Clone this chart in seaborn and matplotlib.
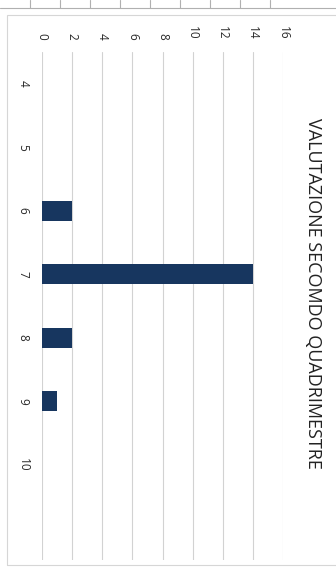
import matplotlib
matplotlib.use("Agg")
import matplotlib.pyplot as plt
from matplotlib.lines import Line2D
from matplotlib.patches import Rectangle
import pandas as pd
import seaborn as sns

# data (chart is scanned rotated 90 degrees clockwise)
voti = ["4", "5", "6", "7", "8", "9", "10"]
studenti = [0, 0, 2, 14, 2, 1, 0]
value_ticks = [0, 2, 4, 6, 8, 10, 12, 14, 16]
titolo = "VALUTAZIONE SECOMDO QUADRIMESTRE"

BAR_COLOR = "#17365f"
GRID_COLOR = "#d2d2d2"


def main() -> None:
    sns.set_theme(style="white")
    plt.rcParams["font.family"] = ["Open Sans", "DejaVu Sans"]

    df = pd.DataFrame({"voto": voti, "studenti": studenti})

    fig = plt.figure(figsize=(3.36, 5.67), dpi=100)
    ax = fig.add_axes([42 / 336, 1 - 560 / 567, 241 / 336, 508 / 567])

    sns.barplot(
        data=df,
        x="studenti",
        y="voto",
        orient="h",
        color=BAR_COLOR,
        width=0.31,
        saturation=1,
        linewidth=0,
        ax=ax,
    )

    ax.set_xlim(0, 16)
    ax.set_ylim(7.5, -0.5)  # leaves an empty slot after "10", as in the scan
    ax.set_xticks(value_ticks)
    ax.set_xticklabels([str(v) for v in value_ticks], rotation=270, fontsize=8.5, color="#2a2a2a")
    ax.set_yticks(range(len(voti)))
    ax.set_yticklabels(voti, rotation=270, fontsize=8.5, color="#2a2a2a", va="center")
    ax.xaxis.tick_top()
    ax.tick_params(axis="x", length=0, pad=9)
    ax.tick_params(axis="y", length=0, pad=9)
    ax.set_xlabel("")
    ax.set_ylabel("")

    ax.grid(axis="x", color=GRID_COLOR, linewidth=0.8, linestyle="-")
    ax.grid(axis="y", visible=False)
    ax.set_axisbelow(True)
    for side in ax.spines.values():
        side.set_visible(False)
    ax.patch.set_alpha(0)

    fig.text(
        313 / 336,
        1 - 293 / 567,
        titolo,
        rotation=270,
        ha="center",
        va="center",
        fontsize=13,
        color="#222222",
    )

    # chart border and the scanned table strip at the top
    fig.add_artist(Rectangle((7 / 336, 2 / 567), 340 / 336, 550 / 567,
                             transform=fig.transFigure, fill=False,
                             edgecolor="#d6d6d6", linewidth=0.8))
    fig.add_artist(Line2D([0, 1], [1 - 8 / 567, 1 - 8 / 567],
                          transform=fig.transFigure, color="#b0b0b0", linewidth=0.8))
    for px in range(30, 300, 30):
        fig.add_artist(Line2D([px / 336, px / 336], [1 - 8 / 567, 1],
                              transform=fig.transFigure, color="#b0b0b0", linewidth=0.8))

    fig.savefig("out.png", dpi=100)
    plt.close(fig)


if __name__ == "__main__":
    main()
